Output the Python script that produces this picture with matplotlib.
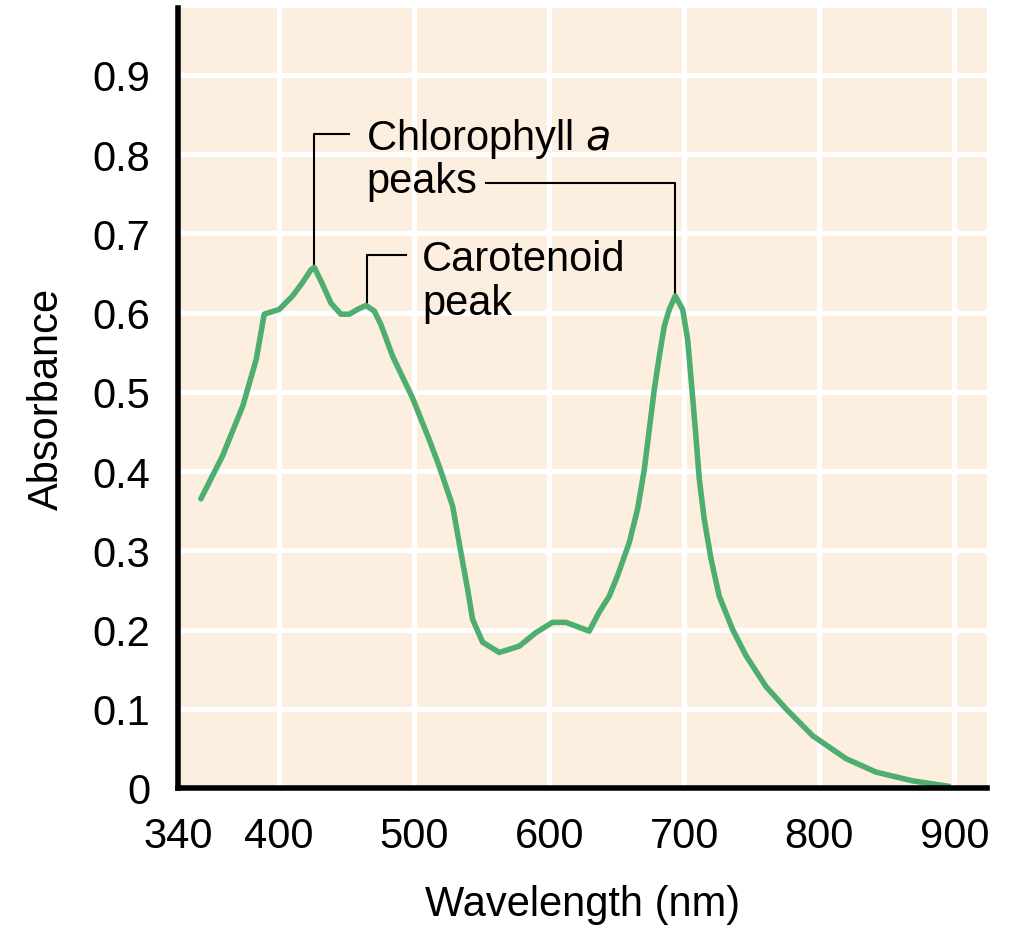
import matplotlib.pyplot as plt

plt.rcParams['font.family'] = ['Liberation Sans', 'DejaVu Sans']

# absorption spectrum
wavelength = [342, 358, 373, 383, 388.9, 400, 409.9, 417.3, 423.5, 426, 432, 438.3,
              445.7, 451.9, 458, 464.2, 470.4, 475.3, 484, 498.8, 511, 518.5, 528.4,
              534.6, 539.5, 543.2, 550.6, 563, 577.8, 590.1, 602.4, 612.4, 629.6,
              637, 644.4, 650.6, 659.3, 665.4, 670.4, 674.1, 677.8, 681.5, 685.2,
              688.9, 693.3, 698.8, 702.5, 705.7, 708.6, 711.1, 714.8, 719.8, 725.9,
              735.8, 745.7, 760.5, 775.3, 795, 819.8, 842, 869, 896]
absorbance = [0.365, 0.419, 0.482, 0.541, 0.598, 0.604, 0.621, 0.638, 0.654, 0.657,
              0.636, 0.612, 0.598, 0.598, 0.604, 0.609, 0.602, 0.585, 0.545, 0.492,
              0.440, 0.406, 0.356, 0.297, 0.251, 0.213, 0.184, 0.171, 0.179, 0.196,
              0.209, 0.209, 0.198, 0.222, 0.242, 0.268, 0.310, 0.352, 0.402, 0.453,
              0.503, 0.545, 0.583, 0.604, 0.621, 0.604, 0.566, 0.503, 0.444, 0.390,
              0.339, 0.289, 0.242, 0.200, 0.167, 0.128, 0.100, 0.066, 0.037, 0.020,
              0.009, 0.002]

x_ticks = [325, 400, 500, 600, 700, 800, 900]
x_labels = ['340', '400', '500', '600', '700', '800', '900']
y_ticks = [0, 0.1, 0.2, 0.3, 0.4, 0.5, 0.6, 0.7, 0.8, 0.9]
y_labels = ['0', '0.1', '0.2', '0.3', '0.4', '0.5', '0.6', '0.7', '0.8', '0.9']

fig = plt.figure(figsize=(10.11, 9.37), dpi=100)
ax = fig.add_axes([0.176, 0.158, 0.8, 0.832])
ax.set_facecolor('#fdefe0')

ax.plot(wavelength, absorbance, color='#4dae6f', lw=4, solid_capstyle='round',
        solid_joinstyle='round', zorder=3)

ax.set_xlim(325, 924)
ax.set_ylim(0, 0.984)
ax.set_xticks(x_ticks)
ax.set_xticklabels(x_labels)
ax.set_yticks(y_ticks)
ax.set_yticklabels(y_labels)
ax.tick_params(length=0, labelsize=30)
ax.tick_params(axis='x', pad=20)
ax.tick_params(axis='y', pad=20)

# white grid, skipping the 340 corner and the 0 line
for x in x_ticks[1:]:
    ax.axvline(x, color='white', lw=3.6, zorder=1)
for y in y_ticks[1:]:
    ax.axhline(y, color='white', lw=3.6, zorder=1)

for s in ['top', 'right']:
    ax.spines[s].set_visible(False)
for s in ['left', 'bottom']:
    ax.spines[s].set_linewidth(4)
    ax.spines[s].set_color('black')
    ax.spines[s].set_zorder(4)

ax.set_xlabel('Wavelength (nm)', fontsize=30, labelpad=20)
ax.set_ylabel('Absorbance', fontsize=30, labelpad=18)

# leader lines for the peaks
lk = dict(color='black', lw=1.5, zorder=2)
ax.plot([425.5, 425.5, 452], [0.657, 0.825, 0.825], **lk)
ax.plot([553, 693.3, 693.3], [0.764, 0.764, 0.621], **lk)
ax.plot([465, 465, 494], [0.609, 0.673, 0.673], **lk)

ax.text(464.5, 0.806, 'Chlorophyll $\\mathit{a}$', fontsize=30, va='baseline')
ax.text(464.5, 0.752, 'peaks', fontsize=30, va='baseline')
ax.text(506, 0.654, 'Carotenoid', fontsize=30, va='baseline')
ax.text(506, 0.598, 'peak', fontsize=30, va='baseline')

fig.savefig('out.png', dpi=100)
